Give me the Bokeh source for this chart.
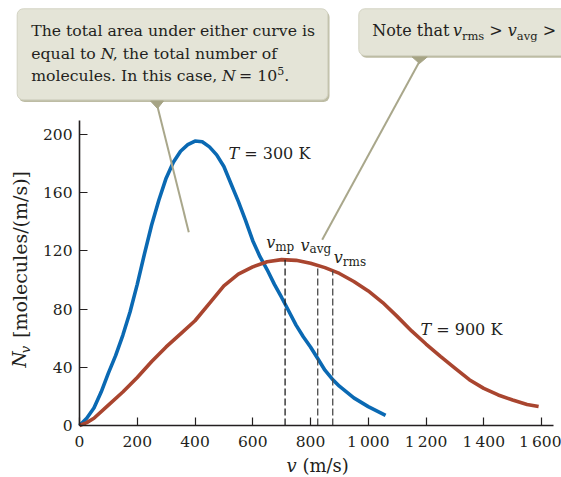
import numpy as np
from math import pi
from bokeh.plotting import figure
from bokeh.models import Range1d, FixedTicker
from bokeh.core.properties import value
from bokeh.embed import file_html
from bokeh.resources import INLINE

# ---------------- data ----------------
v_300 = [0, 25, 50, 75, 100, 125, 150, 175, 200, 225, 250, 275, 300, 325,
         350, 375, 400, 425, 450, 475, 500, 525, 550, 575, 600, 625, 650,
         675, 700, 725, 750, 775, 800, 825, 850, 875, 900, 950, 1000, 1060]
n_300 = [0, 5, 12, 23, 36, 48, 62, 78, 97, 118, 138, 155, 170, 181,
         188.5, 193, 195.5, 195, 191.5, 186, 178, 166, 154, 141, 127, 116, 107,
         97, 88, 78.5, 69, 61, 54, 46, 38, 32, 27, 19, 13, 7]

v_900 = [0, 25, 50, 100, 150, 200, 250, 300, 350, 400, 450, 500, 550, 600,
         650, 700, 750, 800, 850, 900, 950, 1000, 1050, 1100, 1150, 1200,
         1250, 1300, 1350, 1400, 1450, 1500, 1550, 1590]
n_900 = [0, 2, 5, 14, 23, 33, 44, 54, 63, 72, 84, 96, 104, 109,
         112.5, 114, 113.5, 111.5, 108.5, 104.5, 99, 92.5, 84.5, 75, 65, 56,
         47.5, 39.5, 31.5, 25.5, 21, 17.5, 14.5, 13]

speed_names = ["mp", "avg", "rms"]
speed_values = [712, 825, 877]

x_ticks = [0, 200, 400, 600, 800, 1000, 1200, 1400, 1600]
x_tick_labels = ["0", "200", "400", "600", "800", "1\u2009000", "1\u2009200",
                 "1\u2009400", "1\u2009600"]
y_ticks = [0, 40, 80, 120, 160, 200]
y_tick_labels = ["0", "40", "80", "120", "160", "200"]

# ---------------- style ----------------
FONT = "DejaVu Serif"
INK = "#231f20"
BLUE = "#0a69b3"
RED = "#a9452f"
BOX_FILL = "#e4e4d7"
BOX_LINE = "#d3d3c3"
SHADOW = "#bdbca4"
POINTER = "#a6a485"
LEADER = "#a9a78b"

WID = {' ': 318, '.': 318, ',': 318, '=': 838, '>': 838, '(': 390, ')': 390,
       '/': 337, '[': 390, ']': 390, 'a': 596, 'b': 640, 'c': 560, 'd': 640,
       'e': 592, 'f': 370, 'g': 640, 'h': 644, 'i': 320, 'k': 610, 'l': 320,
       'm': 948, 'n': 644, 'o': 602, 'p': 640, 'q': 640, 'r': 478, 's': 513,
       't': 402, 'u': 644, 'v': 565, 'w': 856, 'y': 565, 'T': 667, 'N': 767,
       'I': 373, 'K': 712}
for d in "0123456789":
    WID[d] = 636
WID_IT = {'v': 565, 'N': 767, 'T': 667}
MID = 0.30   # baseline lies this many ems below the "middle" anchor


def tw(s, size, italic=False):
    tab = WID_IT if italic else WID
    return sum(tab.get(c, WID.get(c, 600)) for c in s) * size / 1000.0


# canvas layout: the frame is the whole canvas, axes sit at v = 0 and N = 0
W, H = 561, 477
OX, OY = 79.0, 425.0          # pixel position of the origin
SX = 462.0 / 1600.0           # px per m/s
SY = 291.0 / 200.0            # px per unit


def md(px, py):
    return (px - OX) / SX, (OY - py) / SY


x0r, y0r = md(0, H)
x1r, y1r = md(W, 0)

p = figure(width=W, height=H, x_range=Range1d(x0r, x1r),
           y_range=Range1d(y0r, y1r), output_backend="svg",
           toolbar_location=None, min_border=0)
p.grid.visible = False
p.outline_line_color = None

for ax, ticks, labels, bnd in ((p.xaxis[0], x_ticks, x_tick_labels, (0, md(553, 0)[0])),
                               (p.yaxis[0], y_ticks, y_tick_labels, (0, md(0, 120)[1]))):
    ax.fixed_location = 0
    ax.ticker = FixedTicker(ticks=ticks)
    ax.major_label_overrides = {t: l for t, l in zip(ticks, labels)}
    ax.bounds = bnd
    ax.major_tick_in = 8
    ax.major_tick_out = 0
    ax.minor_tick_line_color = None
    ax.axis_line_color = INK
    ax.axis_line_width = 1.6
    ax.major_tick_line_color = INK
    ax.major_tick_line_width = 1.2
    ax.major_label_text_font = FONT
    ax.major_label_text_font_size = "15.5px"
    ax.major_label_text_color = INK
    ax.major_label_standoff = 7

# curves
p.line(v_300, n_300, line_color=BLUE, line_width=3.6, line_join="round")
p.line(v_900, n_900, line_color=RED, line_width=3.6, line_join="round")

# characteristic speeds
tops = np.interp(speed_values, v_900, n_900)
p.segment(x0=speed_values, y0=[0] * 3, x1=speed_values, y1=list(tops),
          line_color=["#1f1f1f", "#4a4a4a", "#4a4a4a"], line_width=1.3,
          line_dash="7 3")

# leader lines (page pixels -> data)
leaders = [((157, 106), (188.3, 231.7)), ((419, 61), (321.7, 239.3))]
for (a, b) in leaders:
    (xa, ya), (xb, yb_) = md(*a), md(*b)
    p.segment(x0=[xa], y0=[ya], x1=[xb], y1=[yb_], line_color=LEADER,
              line_width=2)


# call-out boxes
def box(l, r, t, b, **kw):
    (L, T), (R, B) = md(l, t), md(r, b)
    p.quad(left=[L], right=[R], top=[T], bottom=[B], border_radius=6, **kw)


box(18.2, 329.0, 10.5, 101.6, fill_color=SHADOW, line_color=None)
box(16.7, 327.3, 8.3, 99.3, fill_color=BOX_FILL, line_color=BOX_LINE,
    line_width=1)
box(359.8, 620, 10.5, 57.3, fill_color=SHADOW, line_color=None)
box(358.3, 620, 8.3, 55.0, fill_color=BOX_FILL, line_color=BOX_LINE,
    line_width=1)

pxs, pys = [], []
for pts in ([(150, 100.5), (163, 100.5), (157, 108)],
            [(411.7, 56.5), (426.7, 56.5), (419, 63)]):
    xs, ys = zip(*[md(*q) for q in pts])
    pxs.append(list(xs))
    pys.append(list(ys))
p.patches(xs=pxs, ys=pys, fill_color=POINTER, line_color=POINTER,
          line_width=1)


# texts: (px, py) is the wanted baseline start in pixels
def lab(px, py, s, size, italic=False, rotated=False):
    if rotated:
        X, Y = md(px - MID * size, py)
    else:
        X, Y = md(px, py - MID * size)
    p.text(x=[X], y=[Y], text=[s], text_font=value(FONT),
           text_font_size=value(f"{size}px"),
           text_font_style="italic" if italic else "normal",
           text_color=INK, angle=pi / 2 if rotated else 0.0,
           text_align="left", text_baseline="middle")


def run(px, py, pieces):
    x = px
    for s, size, it, dy in pieces:
        lead = len(s) - len(s.lstrip(' '))
        core = s.strip(' ')
        if core:
            lab(x + lead * tw(' ', size), py + dy, core, size, it)
        x += tw(s, size, it)


BS = 15.7
run(30.7, 35, [("The total area under either curve is", BS, False, 0)])
run(30.7, 57.5, [("equal to ", BS, False, 0), ("N", BS, True, 0),
                 (", the total number of", BS, False, 0)])
run(30.7, 80, [("molecules. In this case, ", BS, False, 0), ("N", BS, True, 0),
               (" = 10", BS, False, 0), ("5", 11, False, -6),
               (".", BS, False, 0)])
run(371.7, 35, [("Note that ", 16, False, 0), ("v", 16, True, 0),
                ("rms", 11.5, False, 4), (" > ", 16, False, 0),
                ("v", 16, True, 0), ("avg", 11.5, False, 4), (" >", 16, False, 0)])

run(228, 158, [("T", 16, True, 0), (" = 300 K", 16, False, 0)])
run(420, 334, [("T", 16, True, 0), (" = 900 K", 16, False, 0)])

for name, (lx, ly) in zip(speed_names, [(265.7, 247), (300, 249.5),
                                        (333.3, 261.7)]):
    run(lx, ly, [("v", 16, True, 0), (name, 12, False, 3)])

AX = 18
run(286, 470, [("v", AX, True, 0), (" (m/s)", AX, False, 0)])

yb = 367
lab(25, yb, "N", 18.5, True, True)
yb -= tw("N", 18.5, True)
lab(29, yb, "v", 13, True, True)
yb -= tw("v", 13, True) + 8
lab(25, yb, "[molecules/(m/s)]", 19, False, True)

open("out.html", "w").write(file_html(p, INLINE))
